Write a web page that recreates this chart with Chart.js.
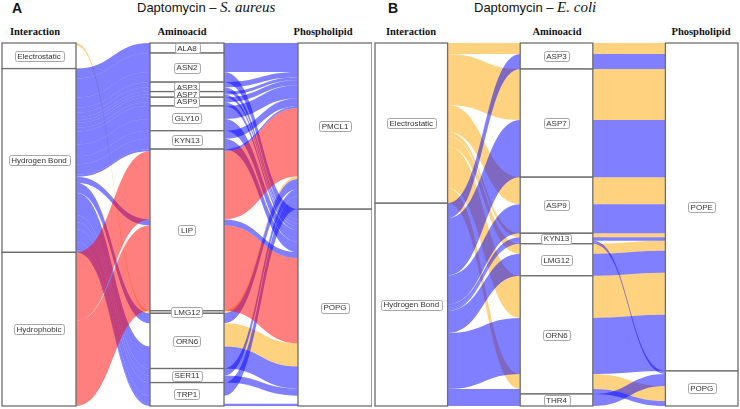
<!DOCTYPE html>
<html>
<head>
<meta charset="utf-8">
<script src="https://cdn.jsdelivr.net/npm/chart.js@4.4.1/dist/chart.umd.min.js"></script>
<style>
	body { margin: 0; background: #fff; width: 740px; height: 409px; position: relative; overflow: hidden; }
	.panel { position: absolute; top: 0; height: 409px; }
	.tag { position: absolute; top: 0px; font: bold 14px "Liberation Sans", Arial, sans-serif; color: #111; }
	.title { position: absolute; top: -1px; font: 13px "Liberation Sans", Arial, sans-serif; color: #111; white-space: nowrap; }
	.title i { font: italic 15px "Liberation Serif", "Times New Roman", serif; }
	.head { position: absolute; top: 26px; font: bold 10.5px "Liberation Serif", "Times New Roman", serif; color: #111; white-space: nowrap; transform: translateX(-50%); }
</style>
</head>
<body>
<div class="tag" style="left:12px">A</div>
<div class="title" style="left:137px">Daptomycin – <i>S. aureus</i></div>
<div class="tag" style="left:388px">B</div>
<div class="title" style="left:474px">Daptomycin – <i>E. coli</i></div>

<div class="head" style="left:35px">Interaction</div>
<div class="head" style="left:182px">Aminoacid</div>
<div class="head" style="left:323px">Phospholipid</div>
<div class="head" style="left:411px">Interaction</div>
<div class="head" style="left:557px">Aminoacid</div>
<div class="head" style="left:701px">Phospholipid</div>

<div class="panel" style="left:0;width:372px"><canvas id="chartA"></canvas></div>
<div class="panel" style="left:372px;width:368px"><canvas id="chartB"></canvas></div>

<script>
// ===== Data =====

// Panel A: Daptomycin - S. aureus
const interaksiA = ["Electrostatic", "Hydrogen Bond", "Hydrophobic"];
const aminoA = ["ALA8", "ASN2", "ASP3", "ASP7", "ASP9", "GLY10", "KYN13", "LIP", "LMG12", "ORN6", "SER11", "TRP1"];
const lipidA = ["PMCL1", "POPG"];
// alur: interaksi, aminoacid, fosfolipid, besar, tampil ("both" | "left" | "right")
const alurA = [
	["Electrostatic", "LMG12", "PMCL1", 2.5, "both"],
	["Electrostatic", "ORN6", "POPG", 23, "right"],
	["Hydrogen Bond", "ALA8", "PMCL1", 10, "both"],
	["Hydrogen Bond", "ASN2", "PMCL1", 19, "both"],
	["Hydrogen Bond", "ASN2", "POPG", 10, "both"],
	["Hydrogen Bond", "ASP3", "PMCL1", 5, "both"],
	["Hydrogen Bond", "ASP3", "POPG", 4.4, "both"],
	["Hydrogen Bond", "ASP7", "PMCL1", 3, "both"],
	["Hydrogen Bond", "ASP7", "POPG", 2.6, "both"],
	["Hydrogen Bond", "ASP9", "PMCL1", 5, "both"],
	["Hydrogen Bond", "ASP9", "POPG", 3.7, "both"],
	["Hydrogen Bond", "GLY10", "PMCL1", 13, "both"],
	["Hydrogen Bond", "GLY10", "POPG", 11.7, "both"],
	["Hydrogen Bond", "KYN13", "PMCL1", 8, "both"],
	["Hydrogen Bond", "KYN13", "POPG", 10.3, "both"],
	["Hydrogen Bond", "LIP", "PMCL1", 2, "both"],
	["Hydrogen Bond", "LIP", "POPG", 6, "both"],
	["Hydrogen Bond", "ORN6", "PMCL1", 10, "both"],
	["Hydrogen Bond", "ORN6", "POPG", 22, "both"],
	["Hydrogen Bond", "SER11", "PMCL1", 7, "both"],
	["Hydrogen Bond", "SER11", "POPG", 7, "both"],
	["Hydrogen Bond", "TRP1", "PMCL1", 13, "both"],
	["Hydrogen Bond", "TRP1", "POPG", 8, "left"],
	["Hydrogen Bond", "TRP1", "POPG", 2.3, "both"],
	["Hydrophobic", "LIP", "PMCL1", 68, "both"],
	["Hydrophobic", "LIP", "POPG", 85, "both"],
];

// Panel B: Daptomycin - E. coli
const interaksiB = ["Electrostatic", "Hydrogen Bond"];
const aminoB = ["ASP3", "ASP7", "ASP9", "KYN13", "LMG12", "ORN6", "THR4"];
const lipidB = ["POPE", "POPG"];
// urutan aminoacid di sumbu fosfolipid
const urutanLipidB = ["ASP3", "ASP7", "ASP9", "KYN13", "LMG12", "THR4", "ORN6"];
const alurB = [
	["Electrostatic", "ASP3", "POPE", 11, "both"],
	["Electrostatic", "ASP7", "POPE", 51, "both"],
	["Electrostatic", "ASP9", "POPE", 27, "both"],
	["Electrostatic", "KYN13", "POPE", 4, "both"],
	["Electrostatic", "LMG12", "POPE", 10, "both"],
	["Electrostatic", "ORN6", "POPE", 42, "both"],
	["Electrostatic", "ORN6", "POPG", 15, "both"],
	["Hydrogen Bond", "ASP3", "POPE", 15, "both"],
	["Hydrogen Bond", "ASP7", "POPE", 57, "both"],
	["Hydrogen Bond", "ASP9", "POPE", 29, "both"],
	["Hydrogen Bond", "KYN13", "POPE", 3.5, "both"],
	["Hydrogen Bond", "KYN13", "POPG", 1.5, "both"],
	["Hydrogen Bond", "KYN13", "POPG", 1.5, "both"],
	["Hydrogen Bond", "LMG12", "POPE", 22, "both"],
	["Hydrogen Bond", "ORN6", "POPE", 56, "both"],
	["Hydrogen Bond", "ORN6", "POPG", 5, "both"],
	["Hydrogen Bond", "THR4", "POPG", 12, "both"],
];

// Warna per interaksi (alpha 0.5 seperti paket alluvial)
const warnaInteraksi = {
	"Electrostatic": "rgba(255,165,0,0.5)",
	"Hydrogen Bond": "rgba(0,0,255,0.5)",
	"Hydrophobic": "rgba(255,0,0,0.5)",
};

// ===== Fungsi bantu =====
function petaIndeks(list) {
	const m = {};
	list.forEach((v, i) => (m[v] = i));
	return m;
}

// susun alur pada satu sumbu berdasarkan kunci urut, hasil [awal, akhir]
function susun(alur, kunci) {
	const idx = alur.map((_, i) => i);
	idx.sort((a, b) => {
		const ka = kunci(alur[a]), kb = kunci(alur[b]);
		for (let k = 0; k < ka.length; k++) if (ka[k] !== kb[k]) return ka[k] - kb[k];
		return a - b;
	});
	const pos = new Array(alur.length);
	let y = 0;
	idx.forEach((i) => {
		pos[i] = [y, y + alur[i][3]];
		y += alur[i][3];
	});
	return pos;
}

function pita(ctx, x1, a1, b1, x2, a2, b2) {
	const xm = (x1 + x2) / 2;
	ctx.beginPath();
	ctx.moveTo(x1, a1);
	ctx.bezierCurveTo(xm, a1, xm, a2, x2, a2);
	ctx.lineTo(x2, b2);
	ctx.bezierCurveTo(xm, b2, xm, b1, x1, b1);
	ctx.closePath();
	ctx.fill();
}

function kotakLabel(ctx, teks, cx, cy) {
	ctx.font = "8px 'Liberation Sans', Arial, sans-serif";
	const w = ctx.measureText(teks).width + 5;
	const h = 10;
	ctx.beginPath();
	ctx.roundRect(Math.round(cx - w / 2) + 0.5, Math.round(cy - h / 2) + 0.5, Math.round(w), h, 2);
	ctx.fillStyle = "#fff";
	ctx.fill();
	ctx.strokeStyle = "#a6a6a6";
	ctx.lineWidth = 1;
	ctx.stroke();
	ctx.fillStyle = "#333";
	ctx.textAlign = "center";
	ctx.textBaseline = "middle";
	ctx.fillText(teks, cx, cy + 0.5);
}

function pluginAlluvial(cfg) {
	return {
		id: "alluvial",
		afterDatasetsDraw(chart) {
			const ctx = chart.ctx;
			const sx = chart.scales.x, sy = chart.scales.y;
			const alur = cfg.alur;
			const iInt = petaIndeks(cfg.interaksi);
			const iAmino = petaIndeks(cfg.amino);
			const iLipid = petaIndeks(cfg.lipid);
			const iRank = petaIndeks(cfg.urutanLipid);

			const posInt = susun(alur, (r) => [iInt[r[0]], iAmino[r[1]], iLipid[r[2]]]);
			const posAmino = susun(alur, (r) => [iAmino[r[1]], iLipid[r[2]], iInt[r[0]]]);
			const posLipid = susun(alur, (r) => [iLipid[r[2]], iRank[r[1]], iInt[r[0]]]);

			// kolom: [kiri, kanan] dalam satuan sumbu x
			const kolom = [[0, 1], [2, 3], [4, 5]];
			const X = (v) => sx.getPixelForValue(v);
			const Y = (v) => sy.getPixelForValue(v);

			ctx.save();
			// gambar pita, lapisan menurut urutan interaksi
			const urut = alur.map((_, i) => i).sort((a, b) => iInt[alur[a][0]] - iInt[alur[b][0]] || a - b);
			urut.forEach((i) => {
				const r = alur[i];
				ctx.fillStyle = warnaInteraksi[r[0]];
				if (r[4] !== "right") {
					pita(ctx, X(kolom[0][1]), Y(posInt[i][0]), Y(posInt[i][1]),
						X(kolom[1][0]), Y(posAmino[i][0]), Y(posAmino[i][1]));
				}
				if (r[4] !== "left") {
					pita(ctx, X(kolom[1][1]), Y(posAmino[i][0]), Y(posAmino[i][1]),
						X(kolom[2][0]), Y(posLipid[i][0]), Y(posLipid[i][1]));
				}
			});

			// kotak simpul
			const simpul = [
				{ nama: cfg.interaksi, col: 0, pos: posInt },
				{ nama: cfg.amino, col: 1, pos: posAmino },
				{ nama: cfg.lipid, col: 2, pos: posLipid },
			];
			const label = [];
			simpul.forEach((s) => {
				s.nama.forEach((n) => {
					let a = Infinity, b = -Infinity;
					alur.forEach((r, i) => {
						if (r[s.col] === n) {
							a = Math.min(a, s.pos[i][0]);
							b = Math.max(b, s.pos[i][1]);
						}
					});
					if (a === Infinity) return;
					const x1 = X(kolom[s.col][0]), x2 = X(kolom[s.col][1]);
					const y1 = Y(a), y2 = Y(b);
					ctx.fillStyle = "#fff";
					ctx.fillRect(x1, y1, x2 - x1, y2 - y1);
					ctx.strokeStyle = "#6e6e6e";
					ctx.lineWidth = 1.3;
					ctx.strokeRect(x1, y1, x2 - x1, y2 - y1);
					label.push({ teks: n, cx: (x1 + x2) / 2, cy: (y1 + y2) / 2 });
				});
			});
			label.forEach((l) => kotakLabel(ctx, l.teks, l.cx, l.cy));
			ctx.restore();
		},
	};
}

function buatAlluvial(canvasId, cfg) {
	const total = cfg.alur.reduce((s, r) => s + r[3], 0);
	new Chart(document.getElementById(canvasId), {
		type: "scatter",
		data: { datasets: [{ data: [] }] },
		options: {
			responsive: true,
			maintainAspectRatio: false,
			animation: false,
			layout: { padding: cfg.padding },
			plugins: { legend: { display: false }, tooltip: { enabled: false } },
			scales: {
				x: { type: "linear", min: 0, max: 5, display: false },
				y: { type: "linear", min: 0, max: total, reverse: true, display: false },
			},
		},
		plugins: [pluginAlluvial(cfg)],
	});
}

buatAlluvial("chartA", {
	interaksi: interaksiA, amino: aminoA, lipid: lipidA, urutanLipid: aminoA, alur: alurA,
	padding: { left: 2, right: 0, top: 43, bottom: 3 },
});
buatAlluvial("chartB", {
	interaksi: interaksiB, amino: aminoB, lipid: lipidB, urutanLipid: urutanLipidB, alur: alurB,
	padding: { left: 3, right: 2, top: 43, bottom: 3 },
});
</script>
</body>
</html>
